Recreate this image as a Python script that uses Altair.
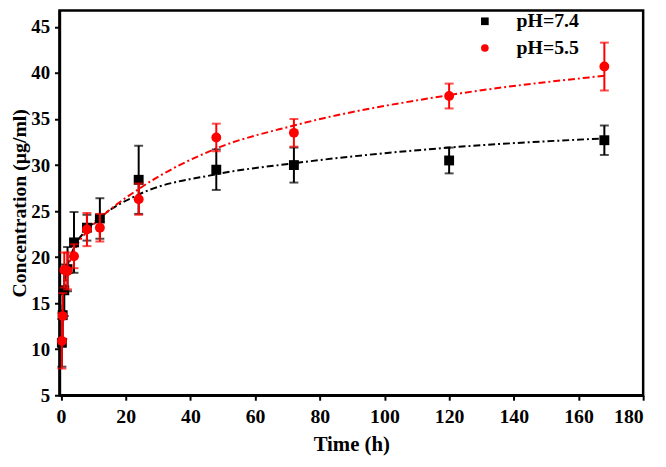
import altair as alt
import pandas as pd

# sampling times (h)
times = [0.25, 0.5, 1, 2, 4, 8, 12, 24, 48, 72, 120, 168]
# pH 7.4 (black squares)
conc_74 = [10.7, 13.7, 16.4, 18.7, 21.6, 23.2, 24.2, 28.4, 29.5, 30.0, 30.5, 32.7]
err_74 = [2.6, 2.6, 2.8, 2.4, 3.3, 1.4, 2.2, 3.7, 2.2, 1.9, 1.4, 1.6]
# pH 5.5 (red circles)
conc_55 = [10.9, 13.6, 18.6, 18.5, 20.1, 23.0, 23.2, 26.3, 33.0, 33.5, 37.5, 40.7]
err_55 = [3.0, 2.5, 1.9, 2.0, 1.3, 1.8, 1.5, 1.7, 1.5, 1.5, 1.35, 2.6]

# fitted curves
fit_74 = [12.5, 14.8, 17.0, 19.0, 21.0, 23.0, 24.3, 26.8, 29.0, 30.2, 31.9, 32.9]
fit_55 = [11.5, 13.8, 16.2, 18.5, 20.6, 22.8, 24.2, 27.4, 31.8, 34.3, 37.6, 39.7]

series_names = ["pH=7.4", "pH=5.5"]
colors = ["#000000", "#ff0000"]
shapes = ["square", "circle"]

x_ticks = list(range(0, 181, 10))
y_ticks = [5 + 2.5 * i for i in range(17)]

rows = []
for name, c, e, f in [(series_names[0], conc_74, err_74, fit_74),
                      (series_names[1], conc_55, err_55, fit_55)]:
    for t, v, ee, ff in zip(times, c, e, f):
        rows.append({"t": t, "y": v, "lo": v - ee, "hi": v + ee, "fit": ff, "series": name})
df = pd.DataFrame(rows)

FONT = "Liberation Serif"

xscale = alt.Scale(domain=[-0.5, 180], nice=False, zero=False)
yscale = alt.Scale(domain=[5, 46.8], nice=False, zero=False)

xaxis = alt.Axis(values=x_ticks, title="Time (h)",
                 labelExpr="datum.value % 20 == 0 ? datum.label : ''",
                 titlePadding=7, labelPadding=7, titleFontSize=21)
yaxis = alt.Axis(values=y_ticks, title="Concentration (μg/ml)",
                 labelExpr="datum.value % 5 == 0 ? datum.label : ''",
                 titlePadding=1, labelPadding=5, titleFontSize=20, labelFontSize=19)

layers = []
for name, col in zip(series_names, colors):
    sub = df[df.series == name]
    base = alt.Chart(sub)
    line = base.mark_line(color=col, strokeWidth=2, strokeDash=[7, 3, 2, 3],
                          interpolate="monotone").encode(
        x=alt.X("t:Q", scale=xscale, axis=xaxis),
        y=alt.Y("fit:Q", scale=yscale, axis=yaxis),
    )
    layers.append(line)

for name, col in zip(series_names, colors):
    sub = df[df.series == name]
    base = alt.Chart(sub)
    rule = base.mark_rule(color=col, strokeWidth=2).encode(
        x="t:Q", y="lo:Q", y2="hi:Q")
    cap_lo = base.mark_tick(color=col, orient="horizontal", size=9, thickness=2).encode(
        x="t:Q", y="lo:Q")
    cap_hi = base.mark_tick(color=col, orient="horizontal", size=9, thickness=2).encode(
        x="t:Q", y="hi:Q")
    pts = base.mark_point(filled=True, size=100, opacity=1).encode(
        x="t:Q", y="y:Q",
        color=alt.Color("series:N", scale=alt.Scale(domain=series_names, range=colors),
                        legend=alt.Legend(title=None, orient="none", legendX=420, legendY=1)),
        shape=alt.Shape("series:N", scale=alt.Scale(domain=series_names, range=shapes),
                        legend=alt.Legend(title=None, orient="none", legendX=420, legendY=1)),
    )
    layers += [rule, cap_lo, cap_hi, pts]

chart = alt.layer(*layers).properties(
    width=590, height=389,
    autosize=alt.AutoSizeParams(type="none"),
    padding={"left": 52, "top": 0, "right": 15, "bottom": 62},
).configure_view(
    stroke="black", strokeWidth=2.5
).configure_axis(
    grid=False, domainColor="black", domainWidth=2.5,
    tickColor="black", tickWidth=2, tickSize=5,
    labelFont=FONT, labelFontWeight="bold", labelFontSize=20, labelColor="black",
    titleFont=FONT, titleFontWeight="bold", titleFontSize=21, titleColor="black",
).configure_legend(
    labelFont=FONT, labelFontWeight="bold", labelFontSize=20, labelColor="black",
    symbolSize=60, rowPadding=7, labelOffset=22, symbolStrokeWidth=0,
)

chart.save("out.html", embed_options={"renderer": "svg", "actions": False})
